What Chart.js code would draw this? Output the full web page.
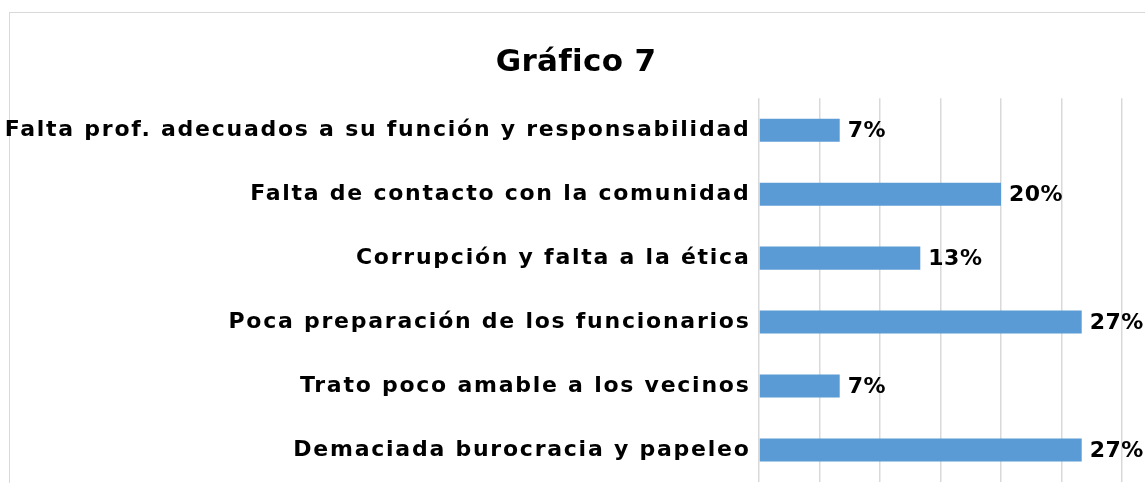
<!DOCTYPE html>
<html>
<head>
<meta charset="utf-8">
<script src="https://cdn.jsdelivr.net/npm/chart.js@4"></script>
<style>
  html, body { margin: 0; padding: 0; background: #fff; overflow: hidden; }
  #frame { position: absolute; left: 9px; top: 12px; width: 1300px; height: 700px; border: 1px solid #d9d9d9; }
  #grafico { position: absolute; left: 0; top: 0; }
</style>
</head>
<body>
<div id="frame"></div>
<canvas id="grafico" width="1145" height="483"></canvas>
<script>
const categories = [
  'Falta prof. adecuados a su función y responsabilidad',
  'Falta de contacto con la comunidad',
  'Corrupción y falta a la ética',
  'Poca preparación de los funcionarios',
  'Trato poco amable a los vecinos',
  'Demaciada burocracia y papeleo'
];
const values = [6.67, 20, 13.33, 26.67, 6.67, 26.67];
const axisMin = 0;
const axisMax = 30;
const axisStep = 5;

const fontFamily = '"DejaVu Sans", sans-serif';

// Etiquetas de categoría y valores, dibujadas con espaciado entre letras
const labelsPlugin = {
  id: 'labelsPlugin',
  beforeDraw(chart) {
    // un poco de espaciado en el título (y sin ligadura "fi")
    chart.ctx.letterSpacing = '0.3px';
  },
  afterDraw(chart) {
    const ctx = chart.ctx;
    const yScale = chart.scales.y;
    ctx.save();
    ctx.fillStyle = '#000';
    ctx.textBaseline = 'middle';

    ctx.font = 'bold 22px ' + fontFamily;
    ctx.letterSpacing = '1.75px';
    ctx.textAlign = 'right';
    categories.forEach((c, i) => {
      ctx.fillText(c, chart.chartArea.left - 8.5, yScale.getPixelForValue(i));
    });

    ctx.font = 'bold 22px ' + fontFamily;
    ctx.letterSpacing = '0.5px';
    ctx.textAlign = 'left';
    const meta = chart.getDatasetMeta(0);
    meta.data.forEach((bar, i) => {
      ctx.fillText(Math.round(values[i]) + '%', bar.x + 8, bar.y + 1);
    });
    ctx.restore();
  }
};

new Chart(document.getElementById('grafico').getContext('2d'), {
  type: 'bar',
  data: {
    labels: categories,
    datasets: [{
      data: values,
      backgroundColor: '#5b9bd5',
      borderWidth: 0,
      categoryPercentage: 1,
      barPercentage: 0.36
    }]
  },
  options: {
    indexAxis: 'y',
    responsive: false,
    animation: false,
    devicePixelRatio: 1,
    layout: { padding: { left: 30, right: 23, top: 0, bottom: 1 } },
    plugins: {
      legend: { display: false },
      tooltip: { enabled: false },
      title: {
        display: true,
        text: 'Gráfico 7',
        color: '#000',
        font: { family: fontFamily, size: 31, weight: 'bold' },
        padding: { top: 44, bottom: 17 }
      }
    },
    scales: {
      x: {
        min: axisMin,
        max: axisMax,
        ticks: { stepSize: axisStep, display: false },
        grid: { color: '#d9d9d9', lineWidth: 1.5, drawTicks: false },
        border: { display: false },
        afterFit: s => { s.height = 0; }
      },
      y: {
        ticks: { display: false },
        grid: { display: false },
        border: { display: false },
        afterFit: s => { s.width = 729; }
      }
    }
  },
  plugins: [labelsPlugin]
});
</script>
</body>
</html>
